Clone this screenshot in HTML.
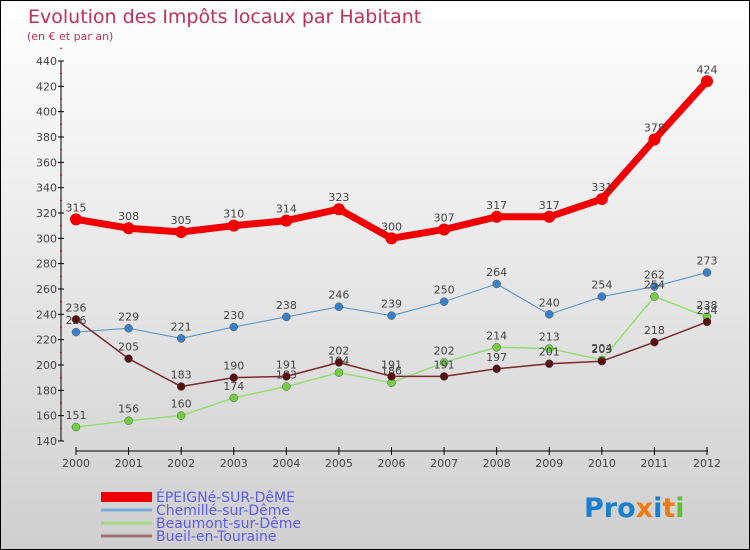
<!DOCTYPE html>
<html><head><meta charset="utf-8"><style>
body{margin:0}
#c{width:748px;height:548px;border:1px solid #000;background:linear-gradient(#fff,#cfcfcf);position:relative;font-family:"DejaVu Sans","Liberation Sans",sans-serif;overflow:hidden}
</style></head><body>
<div id="c">
<svg id="s" width="748" height="548" style="position:absolute;left:0;top:0">
<text x="27" y="22" font-size="19" fill="#c0305a">Evolution des Impôts locaux par Habitant</text>
<text x="26" y="39" font-size="11" fill="#c0305a">(en € et par an)</text>
<g id="axes"></g><g id="series"></g><g id="legend"></g>
<text x="583" y="516" font-size="27" font-weight="bold"><tspan fill="#1a7fd0">Pro</tspan><tspan fill="#f07a10">x</tspan><tspan fill="#1a7fd0">i</tspan><tspan fill="#f07a10">t</tspan><tspan fill="#60c030">i</tspan></text>
</svg>
</div>
<script>
const years=[2000,2001,2002,2003,2004,2005,2006,2007,2008,2009,2010,2011,2012];
const yTicks=[140,160,180,200,220,240,260,280,300,320,340,360,380,400,420,440];
const epeigne=[315,308,305,310,314,323,300,307,317,317,331,378,424];
const chemille=[226,229,221,230,238,246,239,250,264,240,254,262,273];
const beaumont=[151,156,160,174,183,194,186,202,214,213,204,254,238];
const bueil=[236,205,183,190,191,202,191,191,197,201,203,218,234];
const names=["ÉPEIGNé-SUR-DêME","Chemillé-sur-Dême","Beaumont-sur-Dême","Bueil-en-Touraine"];
const NS="http://www.w3.org/2000/svg";
const X=i=>75+i*(706-75)/(years.length-1);
const Y=v=>440-(v-140)*(380/300);
function mk(t,a,p){const e=document.createElementNS(NS,t);for(const k in a)e.setAttribute(k,a[k]);p.appendChild(e);return e;}
const ax=document.getElementById('axes');
let e=mk('line',{x1:60,y1:60,x2:60,y2:440,stroke:'#000'},ax);


e=mk('line',{x1:75,y1:450,x2:707,y2:450,stroke:'#000'},ax);


yTicks.forEach(v=>{const y=Y(v);mk('line',{x1:57,x2:63,y1:y,y2:y,stroke:'#000'},ax);
 mk('line',{x1:59,x2:61,y1:y-12.7,y2:y-12.7,stroke:'#f00'},ax);
 const t=mk('text',{x:56,y:y+4,'font-size':11,fill:'#444','text-anchor':'end'},ax);t.textContent=v;
 
 });
years.forEach((yr,i)=>{mk('line',{x1:X(i),x2:X(i),y1:446,y2:454,stroke:'#000'},ax);
 const t=mk('text',{x:X(i),y:466,'font-size':11,fill:'#444','text-anchor':'middle'},ax);t.textContent=yr;
 
 });
const sg=document.getElementById('series');
const defs=[[chemille,'#4a90d0','#3a80c8',1,4,'chemille'],[beaumont,'#90e070','#70d040',1.5,4,'beaumont'],[bueil,'#7a2a2a','#5a1010',1.5,4,'bueil'],[epeigne,'#f00000','#f00000',7,6,'epeigne']];
defs.forEach(([d,lc,pc,w,r,n])=>{
 const g=mk('g',{},sg);
 
 
 const l=mk('polyline',{points:d.map((v,i)=>X(i)+','+Y(v)).join(' '),fill:'none',stroke:lc,'stroke-width':w,'stroke-linejoin':'round'},g);
 
 
 d.forEach((v,i)=>{const c=mk('circle',{cx:X(i),cy:Y(v),r:r,fill:pc,stroke:'#555','stroke-width':w>5?0:0.5},g);
  
  
  const t=mk('text',{x:X(i),y:Y(v)-8,'font-size':11,fill:'#444','text-anchor':'middle'},g);t.textContent=v;
  
  });
});
const lg=document.getElementById('legend');
const lcol=['#f00000','#7aaed8','#a0d888','#a07070'],lw=[10,3,3,3];
names.forEach((n,i)=>{const y=496+i*13;
 const g=mk('g',{},lg);
 
 
 mk('line',{x1:100,x2:151,y1:y,y2:y,stroke:lcol[i],'stroke-width':lw[i]},g);
 const t=mk('text',{x:155,y:y+5,'font-size':14,fill:'#5b5bf0'},g);t.textContent=n;});
</script>
</body></html>
